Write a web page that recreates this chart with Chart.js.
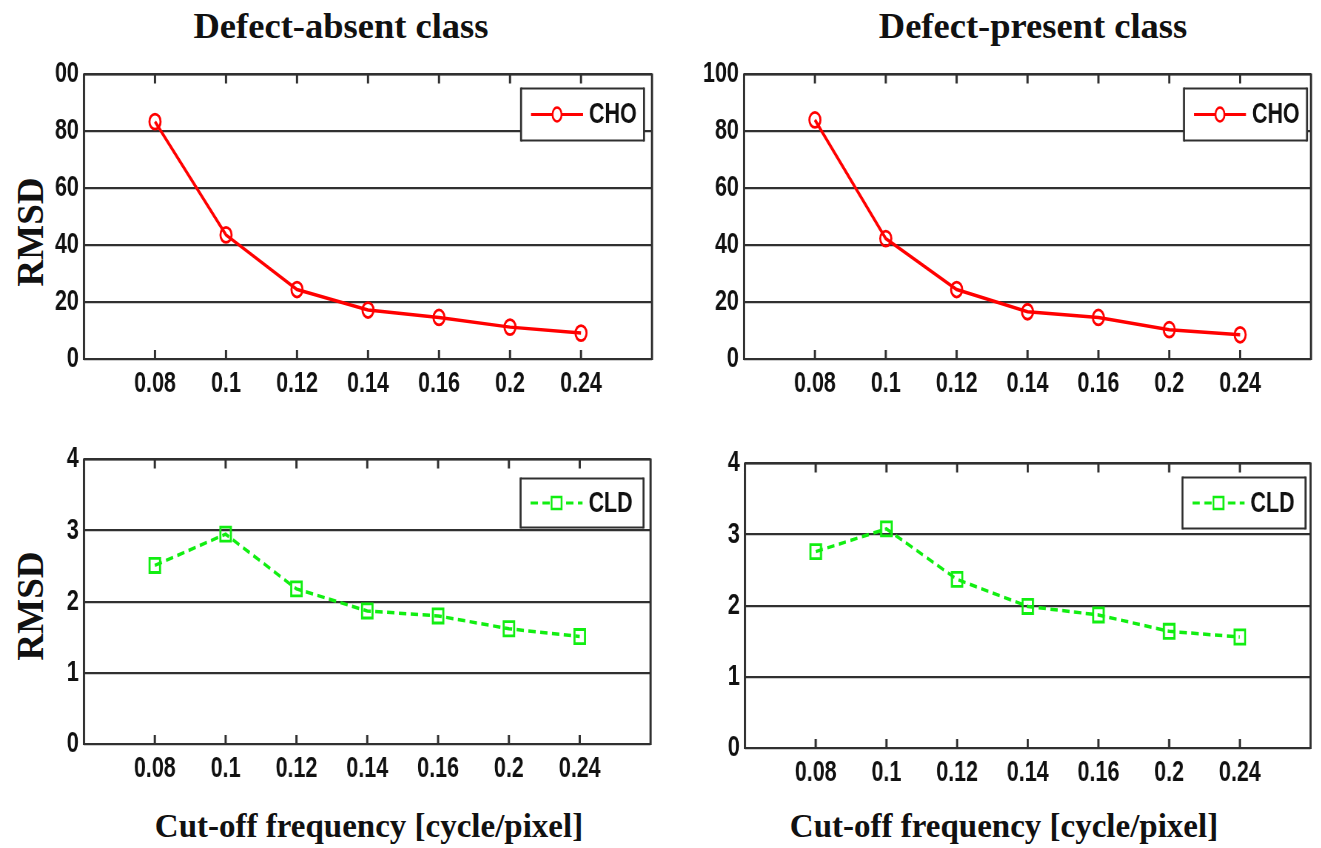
<!DOCTYPE html>
<html><head><meta charset="utf-8">
<script src="https://cdn.jsdelivr.net/npm/chart.js@4.4.1/dist/chart.umd.min.js"></script>
<style>
html,body{margin:0;padding:0;background:#fff;}
#page{position:relative;width:1321px;height:848px;overflow:hidden;background:#fff;}
canvas{position:absolute;}
.t{position:absolute;font-family:'Liberation Serif','Times New Roman',serif;font-weight:bold;color:#111;white-space:nowrap;transform:translate(-50%,-50%);line-height:1;}
.r{transform:translate(-50%,-50%) rotate(-90deg);}
</style></head><body>
<div id="page">
<div class="t" style="left:341px;top:26px;font-size:36.5px">Defect-absent class</div>
<div class="t" style="left:1033px;top:26px;font-size:36.5px">Defect-present class</div>
<div class="t r" style="left:30px;top:232px;font-size:37px">RMSD</div>
<div class="t r" style="left:30px;top:606px;font-size:37px">RMSD</div>
<div class="t" style="left:369px;top:826px;font-size:33px">Cut-off frequency [cycle/pixel]</div>
<div class="t" style="left:1004px;top:826px;font-size:33px">Cut-off frequency [cycle/pixel]</div>
<canvas id="c1"></canvas><canvas id="c2"></canvas><canvas id="c3"></canvas><canvas id="c4"></canvas>
</div>
<script>
// ---- data ----
const cutoffLabels = ['0.08','0.1','0.12','0.14','0.16','0.2','0.24'];
const choAbsent  = [83.4, 43.6, 24.4, 17.2, 14.6, 11.2, 9.1];
const choPresent = [84.0, 42.3, 24.4, 16.6, 14.6, 10.3, 8.5];
const cldAbsent  = [2.51, 2.95, 2.18, 1.87, 1.80, 1.62, 1.51];
const cldPresent = [2.76, 3.08, 2.37, 1.99, 1.87, 1.64, 1.56];
const yTicksChoLeft  = ['0','20','40','60','80','00'];
const yTicksChoRight = ['0','20','40','60','80','100'];
const yTicksCld      = ['0','1','2','3','4'];

// The plot panels of the source figure are horizontally compressed; reproduce that.
const S = 0.74;
const TICK_FONT = {family:"'Liberation Sans',Arial,sans-serif", weight:'bold', size:29};
const DARK = '#303030';

const framePlugin = {
  id:'frame',
  beforeDatasetsDraw(chart){
    const {ctx, chartArea:a, scales} = chart;
    ctx.save();
    ctx.strokeStyle = DARK;
    ctx.lineWidth = 2.2;
    ctx.beginPath();
    ctx.moveTo(a.left, a.top); ctx.lineTo(a.right, a.top);
    ctx.moveTo(a.left, a.bottom); ctx.lineTo(a.right, a.bottom);
    ctx.stroke();
    ctx.lineWidth = 2.2 / S;
    ctx.beginPath();
    ctx.moveTo(a.left, a.top-1); ctx.lineTo(a.left, a.bottom+1);
    ctx.moveTo(a.right, a.top-1); ctx.lineTo(a.right, a.bottom+1);
    for(let i=1;i<=cutoffLabels.length;i++){
      const x = scales.x.getPixelForValue(i);
      ctx.moveTo(x, a.bottom); ctx.lineTo(x, a.bottom-9);
      ctx.moveTo(x, a.top); ctx.lineTo(x, a.top+9);
    }
    ctx.stroke();
    ctx.restore();
  },
  afterDatasetsDraw(chart, args, opts){
    const {ctx, chartArea:a} = chart;
    const ds = chart.data.datasets[0];
    const w = 123/S, h = opts.h;
    const bx = a.right - opts.r/S - w, by = a.top + opts.t;
    ctx.save();
    ctx.fillStyle = '#fff'; ctx.fillRect(bx, by, w, h);
    ctx.strokeStyle = DARK;
    ctx.lineWidth = 2;
    ctx.beginPath();
    ctx.moveTo(bx, by); ctx.lineTo(bx+w, by);
    ctx.moveTo(bx, by+h); ctx.lineTo(bx+w, by+h);
    ctx.stroke();
    ctx.lineWidth = 2/S;
    ctx.beginPath();
    ctx.moveTo(bx, by-1); ctx.lineTo(bx, by+h+1);
    ctx.moveTo(bx+w, by-1); ctx.lineTo(bx+w, by+h+1);
    ctx.stroke();
    const cy = by + h/2;
    ctx.strokeStyle = ds.borderColor; ctx.lineWidth = 3;
    ctx.setLineDash(ds.borderDash || []);
    ctx.beginPath(); ctx.moveTo(bx+10/S, cy); ctx.lineTo(bx+62/S, cy); ctx.stroke();
    ctx.setLineDash([]);
    ctx.lineWidth = 2.5;
    ctx.beginPath();
    if (ds.pointStyle === 'rect') { ctx.rect(bx+36/S-5/S, cy-6, 10/S, 12); }
    else { ctx.ellipse(bx+36/S, cy, 4.5/S, 7, 0, 0, Math.PI*2); }
    ctx.fillStyle = '#fff'; ctx.fill(); ctx.stroke();
    ctx.fillStyle = '#111';
    ctx.font = `bold ${TICK_FONT.size}px ${TICK_FONT.family}`;
    ctx.textBaseline = 'middle'; ctx.textAlign = 'left';
    ctx.fillText(ds.label, bx+68/S, cy+1);
    ctx.restore();
  }
};

function makeChart(id, box, vals, label, yMax, yStep, yLabels, style, legendOpts){
  const PADL = 44, PADT = 24, PADR = 8, XH = 41;
  const cv = document.getElementById(id);
  const Wp = box.right - box.left + PADL + PADR;
  const H = box.bottom - box.top + PADT + XH;
  cv.width = Math.round(Wp / S); cv.height = H;
  cv.style.left = (box.left - PADL) + 'px';
  cv.style.top = (box.top - PADT) + 'px';
  cv.style.width = Wp + 'px'; cv.style.height = H + 'px';
  const data = vals.map((v,i)=>({x:i+1, y:v}));
  return new Chart(cv, {
    type:'line',
    data:{datasets:[Object.assign({label, data, fill:false, tension:0, backgroundColor:'rgba(0,0,0,0)'}, style)]},
    options:{
      responsive:false, animation:false, devicePixelRatio:1,
      layout:{padding:{left:0, top:PADT, right:PADR/S, bottom:0}},
      plugins:{legend:{display:false}, tooltip:{enabled:false}, frame:legendOpts},
      scales:{
        x:{type:'linear', min:0, max:cutoffLabels.length+1,
           afterFit(s){ s.height = XH; },
           grid:{display:false, drawTicks:false},
           border:{display:false},
           ticks:{stepSize:1, autoSkip:false, maxRotation:0, padding:8, color:'#111', font:TICK_FONT,
                  callback:(v)=> (v>=1 && v<=cutoffLabels.length) ? cutoffLabels[v-1] : ''}},
        y:{min:0, max:yMax,
           afterFit(s){ s.width = PADL / S; },
           grid:{color:DARK, lineWidth:2.2, drawTicks:false},
           border:{display:false},
           ticks:{stepSize:yStep, padding:7, color:'#111', font:TICK_FONT,
                  callback:(v,i)=> yLabels[i]}}
      }
    },
    plugins:[framePlugin]
  });
}

const choStyle = {borderColor:'#ff0000', borderWidth:3.5, pointStyle:'circle', pointRadius:7.5, pointBorderWidth:2.8, pointBorderColor:'#ff0000', pointBackgroundColor:'rgba(0,0,0,0)'};
const cldStyle = {borderColor:'#11ee11', borderWidth:3.5, borderDash:[10,6], pointStyle:'rect', pointRadius:10, pointBorderWidth:2.8, pointBorderColor:'#11ee11', pointBackgroundColor:'rgba(0,0,0,0)'};

makeChart('c1', {left:84, top:74, right:652, bottom:359}, choAbsent, 'CHO', 100, 20, yTicksChoLeft, choStyle, {r:8, t:14, h:52});
makeChart('c2', {left:744, top:74, right:1311, bottom:359}, choPresent, 'CHO', 100, 20, yTicksChoRight, choStyle, {r:4, t:14, h:52});
makeChart('c3', {left:84, top:459, right:652, bottom:744}, cldAbsent, 'CLD', 4, 1, yTicksCld, cldStyle, {r:7, t:19, h:49});
makeChart('c4', {left:745, top:463, right:1312, bottom:748}, cldPresent, 'CLD', 4, 1, yTicksCld, cldStyle, {r:5, t:14, h:51});
</script>
</body></html>
